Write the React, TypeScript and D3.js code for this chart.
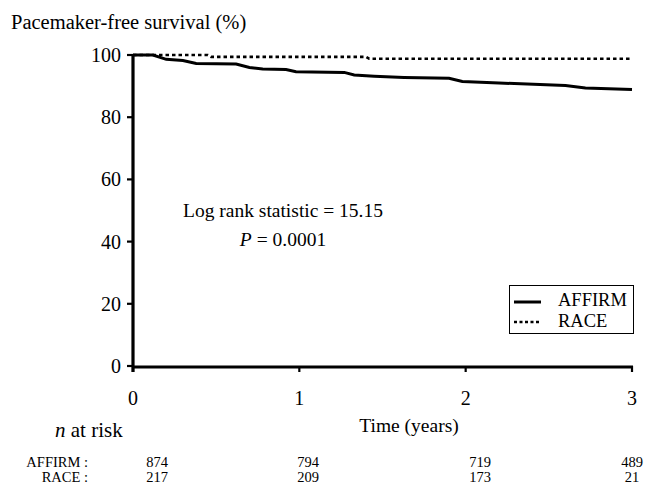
import React from "react";
import * as d3 from "d3";

const affirmTimes = [0, 0.12, 0.2, 0.3, 0.38, 0.62, 0.7, 0.78, 0.92, 0.98, 1.27, 1.33, 1.45, 1.63, 1.9, 1.98, 2.2, 2.6, 2.72, 3.0];
const affirmSurvival = [100, 100, 98.6, 98.2, 97.3, 97.1, 96.0, 95.5, 95.3, 94.6, 94.4, 93.6, 93.2, 92.8, 92.5, 91.5, 91.0, 90.2, 89.4, 88.9];
const raceTimes = [0, 0.45, 0.47, 1.4, 1.42, 3.0];
const raceSurvival = [100, 100, 99.4, 99.4, 98.8, 98.8];
const yTicks = [0, 20, 40, 60, 80, 100];
const xTicks = [0, 1, 2, 3];
const atRiskAffirm = [874, 794, 719, 489];
const atRiskRace = [217, 209, 173, 21];
const seriesNames = ["AFFIRM", "RACE"];

const W = 646;
const H = 487;
const FONT = "Liberation Serif, Times New Roman, serif";
const ts = (size: number, italic = false): React.CSSProperties => ({
  fontFamily: FONT,
  fontSize: size,
  fontStyle: italic ? "italic" : "normal",
});

export default function App() {
  const x = d3.scaleLinear().domain([0, 3]).range([133, 632]);
  const y = d3.scaleLinear().domain([0, 100]).range([366, 55]);
  const line = d3
    .line<[number, number]>()
    .x((d) => x(d[0]))
    .y((d) => y(d[1]));
  const affirm: [number, number][] = affirmTimes.map((t, i) => [t, affirmSurvival[i]]);
  const race: [number, number][] = raceTimes.map((t, i) => [t, raceSurvival[i]]);
  const riskX = [157, 308, 480, 632];

  return (
    <svg
      width={W}
      height={H}
      style={{ position: "absolute", left: 0, top: 0, background: "#fff", fontFamily: FONT }}
    >
      <rect x={0} y={0} width={W} height={H} fill="#fff" />
      <text x={11} y={29} style={ts(20.5)} fill="#000">
        Pacemaker-free survival (%)
      </text>

      {/* y axis */}
      <line x1={x(0)} x2={x(0)} y1={y(100) - 1} y2={y(0) + 6} stroke="#000" strokeWidth={3.2} />
      {yTicks.map((t) => (
        <g key={"y" + t}>
          <line x1={x(0) - 6} x2={x(0)} y1={y(t)} y2={y(t)} stroke="#000" strokeWidth={2.2} />
          <text x={121} y={y(t) + 7} style={ts(20)} textAnchor="end" fill="#000">
            {t}
          </text>
        </g>
      ))}

      {/* x axis */}
      <line x1={x(0)} x2={x(3) + 1} y1={y(0) + 1} y2={y(0) + 1} stroke="#000" strokeWidth={3.2} />
      {xTicks.map((t) => (
        <g key={"x" + t}>
          <line x1={x(t)} x2={x(t)} y1={y(0)} y2={y(0) + 6} stroke="#000" strokeWidth={2.2} />
          <text x={x(t)} y={405} style={ts(20)} textAnchor="middle" fill="#000">
            {t}
          </text>
        </g>
      ))}
      <text x={409} y={432} style={ts(19.5)} textAnchor="middle" fill="#000">
        Time (years)
      </text>

      {/* curves */}
      <path d={line(race) || ""} fill="none" stroke="#000" strokeWidth={2.6} strokeDasharray="3.5,3" />
      <path d={line(affirm) || ""} fill="none" stroke="#000" strokeWidth={3} />

      {/* annotation */}
      <text x={283} y={217} style={ts(19.5)} textAnchor="middle" fill="#000">
        Log rank statistic = 15.15
      </text>
      <text x={283} y={246} style={ts(19.5)} textAnchor="middle" fill="#000">
        <tspan style={ts(19.5, true)}>P</tspan> = 0.0001
      </text>

      {/* legend */}
      <rect x={509.5} y={285.5} width={124} height={48} fill="#fff" stroke="#000" strokeWidth={1} />
      <line x1={514} x2={541} y1={302} y2={302} stroke="#000" strokeWidth={3} />
      <text x={558} y={306} style={ts(18.5)} fill="#000">
        {seriesNames[0]}
      </text>
      <line x1={514} x2={541} y1={322} y2={322} stroke="#000" strokeWidth={2.4} strokeDasharray="3,2.5" />
      <text x={558} y={327} style={ts(18.5)} fill="#000">
        {seriesNames[1]}
      </text>

      {/* n at risk */}
      <text x={55} y={437} style={ts(21)} fill="#000">
        <tspan style={ts(21, true)}>n</tspan> at risk
      </text>
      <text x={88} y={467} style={ts(14.5)} textAnchor="end" fill="#000">
        {seriesNames[0]} :
      </text>
      <text x={88} y={482} style={ts(14.5)} textAnchor="end" fill="#000">
        {seriesNames[1]} :
      </text>
      {atRiskAffirm.map((v, i) => (
        <text key={"a" + i} x={riskX[i]} y={467} style={ts(14.5)} textAnchor="middle" fill="#000">
          {v}
        </text>
      ))}
      {atRiskRace.map((v, i) => (
        <text key={"r" + i} x={riskX[i]} y={482} style={ts(14.5)} textAnchor="middle" fill="#000">
          {v}
        </text>
      ))}
    </svg>
  );
}
